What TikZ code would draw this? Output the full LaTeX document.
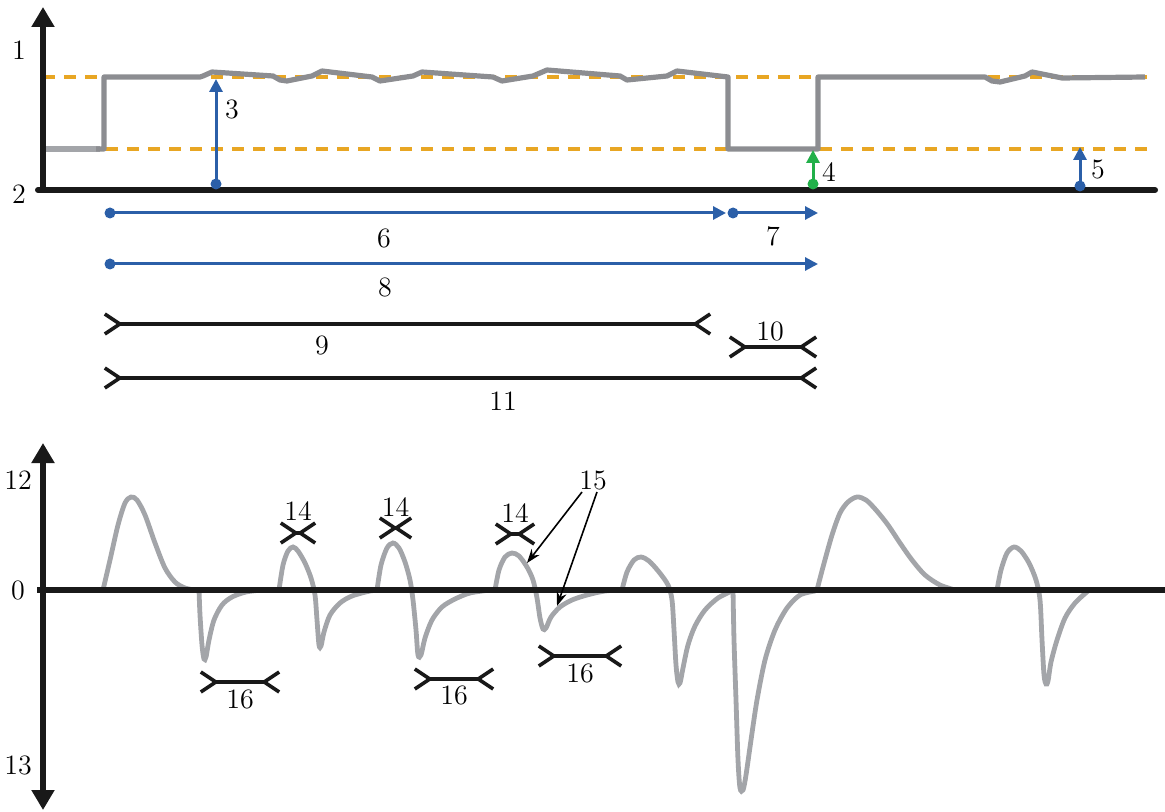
\documentclass[tikz,border=0pt]{standalone}
\usetikzlibrary{arrows.meta}
\definecolor{levelorange}{HTML}{E8A623}
\definecolor{markblue}{HTML}{2B5FA8}
\definecolor{markgreen}{HTML}{22B04A}
\definecolor{tracegray}{HTML}{8C8D91}
\definecolor{tracelight}{HTML}{A3A5A9}
\tikzset{
  axistip/.tip={Triangle[length=10pt,width=11pt]},
  dimtip/.tip={Straight Barb[length=7.5pt,width=10pt,reversed]},
  axisline/.style={line width=3pt,black!90},
  level/.style={line width=1.6pt,levelorange,dash pattern=on 6pt off 4.5pt},
  trace/.style={line width=2.6pt,tracegray,line join=round},
  pulse/.style={line width=2.4pt,tracelight,line cap=round,smooth,tension=0.5},
  markarrow/.style={line width=1.5pt,#1,-{Triangle[length=6.5pt,width=6.5pt]}},
  markdot/.style={circle,fill=#1,inner sep=0pt,minimum size=5.5pt},
  dimline/.style={line width=1.8pt,black!90,dimtip-dimtip},
  callout/.style={line width=0.8pt,-{Stealth[length=7pt,width=5pt]}},
  lbl/.style={font=\fontsize{14}{16}\selectfont,inner sep=0pt}
}
\begin{document}
\begin{tikzpicture}[x=0.5pt,y=-0.5pt]
    \useasboundingbox (0,0) rectangle (1165,812);
    \pgfmathsetmacro{\yhigh}{77}
    \pgfmathsetmacro{\ylow}{149}
    \pgfmathsetmacro{\ybase}{190}
    \pgfmathsetmacro{\yzero}{590}
    % upper panel: thresholds and trace
    \draw[level] (43,\yhigh) -- (1155,\yhigh);
    \draw[level] (43,\ylow) -- (1155,\ylow);
    \draw[trace,tracelight] (45,\ylow) -- (100,\ylow);
    \draw[trace] (96,\ylow) -- (104,\ylow) -- (104,\yhigh) -- (200,\yhigh) -- (203,76) -- (212,72) -- (273,76)
        -- (280,80) -- (287,81) -- (312,76) -- (322,71) -- (372,77) -- (380,81) -- (413,76) -- (422,72)
        -- (493,77) -- (502,81) -- (533,76) -- (547,70) -- (620,76) -- (627,80) -- (667,76) -- (677,71)
        -- (728,\yhigh) -- (728,\ylow) -- (818,\ylow) -- (818,\yhigh) -- (985,77) -- (992,81) -- (1000,82)
        -- (1025,76) -- (1032,72) -- (1062,78) -- (1145,77);
    \draw[axisline,-axistip] (43,192) -- (43,7);
    \draw[axisline,line cap=round] (38,\ybase) -- (1155,\ybase);
    \node[lbl] (ytop) at (19,50) {1};
    \node[lbl] (ybot) at (19,194) {2};
    % vertical markers
    \node[markdot=markblue] (d3) at (216,184) {};
    \coordinate (t3) at (216,79);
    \draw[markarrow=markblue] (d3.center) -- (t3);
    \node[lbl] (l3) at (232,109) {3};
    \node[markdot=markgreen] (d4) at (813,184) {};
    \coordinate (t4) at (813,150);
    \draw[markarrow=markgreen] (d4.center) -- (t4);
    \node[lbl] (l4) at (829,172) {4};
    \node[markdot=markblue] (d5) at (1080,186) {};
    \coordinate (t5) at (1080,147);
    \draw[markarrow=markblue] (d5.center) -- (t5);
    \node[lbl] (l5) at (1098,170) {5};
    % horizontal intervals
    \node[markdot=markblue] (d6) at (110,213) {};
    \coordinate (t6) at (726,213);
    \draw[markarrow=markblue] (d6.center) -- (t6);
    \node[lbl] (l6) at (384,238) {6};
    \node[markdot=markblue] (d7) at (733,213) {};
    \coordinate (t7) at (818,213);
    \draw[markarrow=markblue] (d7.center) -- (t7);
    \node[lbl] (l7) at (773,236) {7};
    \node[markdot=markblue] (d8) at (110,264) {};
    \coordinate (t8) at (818,264);
    \draw[markarrow=markblue] (d8.center) -- (t8);
    \node[lbl] (l8) at (385,287) {8};
    \coordinate (s9) at (103,324); \coordinate (e9) at (712,324);
    \draw[dimline] (s9) -- (e9);
    \node[lbl] (l9) at (322,345) {9};
    \coordinate (s10) at (728,347); \coordinate (e10) at (818,347);
    \draw[dimline] (s10) -- (e10);
    \node[lbl] (l10) at (770,331) {10};
    \coordinate (s11) at (103,378); \coordinate (e11) at (818,378);
    \draw[dimline] (s11) -- (e11);
    \node[lbl] (l11) at (503,401) {11};
    % lower panel: pulses
    \draw[pulse] plot coordinates {(103,590) (110,560) (118,525) (125,503) (131,497) (137,500) (145,515)
        (155,543) (165,568) (175,582) (185,588) (195,590)};
    \draw[pulse] plot coordinates {(199,590) (200,615) (202,645) (204,659) (206,657) (209,640) (214,620)
        (222,605) (232,597) (246,592) (262,590)};
    \draw[pulse] plot coordinates {(279,590) (283,565) (288,551) (293,547) (298,551) (305,563) (311,578)
        (315,595) (317,620) (319,645) (321,646) (324,632) (330,615) (340,603) (352,596) (370,591) (380,590)};
    \draw[pulse] plot coordinates {(377,590) (381,565) (387,548) (393,543) (399,548) (405,562) (410,580)
        (413,600) (416,630) (418,655) (421,655) (425,638) (432,620) (442,607) (455,599) (470,593) (490,590)};
    \draw[pulse] plot coordinates {(495,590) (499,570) (505,557) (512,553) (519,556) (527,567) (533,580)
        (537,598) (540,618) (543,629) (546,628) (551,617) (560,607) (572,600) (587,595) (605,591) (622,590)};
    \draw[pulse] plot coordinates {(622,590) (627,572) (634,560) (641,557) (649,561) (659,572) (668,585)
        (672,600) (674,630) (676,665) (678,682) (680,683) (683,668) (688,645) (695,626) (705,610) (718,598) (732,591)};
    \draw[pulse] plot coordinates {(733,590) (734,640) (736,700) (738,760) (740,788) (743,790) (746,775)
        (751,740) (757,700) (765,660) (775,630) (787,608) (800,595) (815,591)};
    \draw[pulse] plot coordinates {(817,590) (823,567) (832,535) (840,513) (848,502) (857,497) (866,500)
        (876,510) (888,525) (900,543) (912,560) (925,575) (940,585) (955,590)};
    \draw[pulse] plot coordinates {(997,590) (1001,570) (1007,553) (1014,547) (1021,551) (1029,563) (1036,580)
        (1040,600) (1042,640) (1044,675) (1046,684) (1048,681) (1051,662) (1057,640) (1065,618) (1075,603) (1088,591)};
    \draw[axisline,axistip-axistip] (43,443) -- (43,810);
    \draw[axisline] (37,\yzero) -- (1165,\yzero);
    \node[lbl] (yup) at (18,480) {12};
    \node[lbl] (ymid) at (18,590) {0};
    \node[lbl] (ydown) at (18,765) {13};
    % pulse widths
    \foreach \xa/\xb/\yy/\ly [count=\i] in {279/317/533/511, 378/413/528/507, 494/536/534/513}
      {\coordinate (sw\i) at (\xa,\yy); \coordinate (ew\i) at (\xb,\yy);
       \draw[dimline] (sw\i) -- (ew\i);
       \node[lbl] (lw\i) at ({(\xa+\xb)/2},\ly) {14};}
    \foreach \xa/\xb/\yy/\ly [count=\i] in {199/281/682/699, 413/495/679/695, 537/623/656/673}
      {\coordinate (sg\i) at (\xa,\yy); \coordinate (eg\i) at (\xb,\yy);
       \draw[dimline] (sg\i) -- (eg\i);
       \node[lbl] (lg\i) at ({(\xa+\xb)/2},\ly) {16};}
    \node[lbl] (l15) at (593,480) {15};
    \coordinate (p15a) at (527,563);
    \coordinate (p15b) at (557,606);
    \draw[callout] ([xshift=-5.5pt,yshift=-1pt]l15.south) -- (p15a);
    \draw[callout] ([xshift=2pt,yshift=-1pt]l15.south) -- (p15b);
\end{tikzpicture}
\end{document}
